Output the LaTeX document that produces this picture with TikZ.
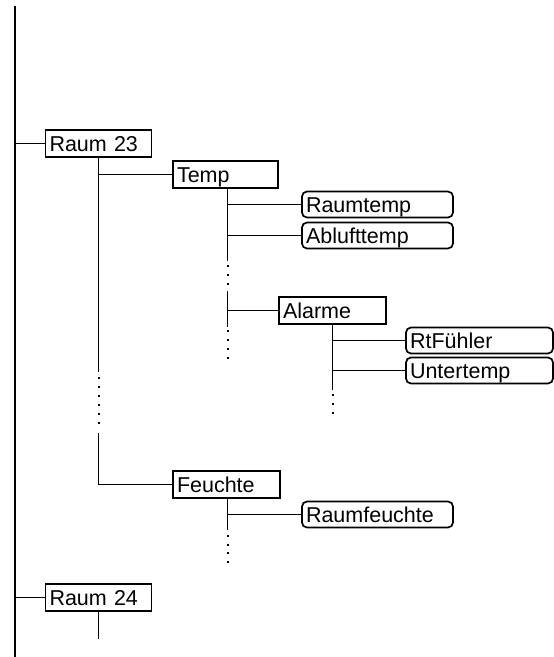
\documentclass[tikz,border=0pt]{standalone}
\usepackage{fontspec}
\setmainfont{Liberation Sans}
\begin{document}
\begin{tikzpicture}[x=1pt,y=-1pt,
  lbl/.style={inner xsep=4pt, inner ysep=0pt, text height=15pt, text depth=0pt,
    font=\fontsize{21.5}{25}\selectfont, align=left, line width=1.7pt},
  sqbox/.style={lbl, draw, minimum height=27pt, text width=#1},
  rbox/.style={lbl, draw, rounded corners=5pt, minimum height=26pt, text width=#1},
  conn/.style={line width=1pt},
  dotmark/.style={fill=black, minimum size=2pt, inner sep=0pt}]
\useasboundingbox (0,0) rectangle (554,657);
% nodes
\node[sqbox=98pt] (r23) at (98.5,143.5) {Raum 23};
\node[sqbox=97pt] (temp) at (225.5,174.5) {Temp};
\node[rbox=143pt] (rt) at (377.5,204.5) {Raumtemp};
\node[rbox=143pt] (at) at (377.5,235.5) {Ablufttemp};
\node[sqbox=99pt] (al) at (332.5,310.5) {Alarme};
\node[rbox=139pt] (rtf) at (479.5,340.5) {RtFühler};
\node[rbox=139pt] (ut) at (479.5,370.5) {Untertemp};
\node[sqbox=99pt] (fe) at (226.5,484.5) {Feuchte};
\node[rbox=143pt] (rf) at (377.5,514.5) {Raumfeuchte};
\node[sqbox=98pt] (r24) at (98.5,597.5) {Raum 24};
% main line
\coordinate (mtop) at (15,6);
\coordinate (mbot) at (15,657);
\draw[line width=2pt] (mtop) -- (mbot);
\draw[conn] (15,143.5) -- (r23.west);
\draw[conn] (15,597.5) -- (r24.west);
% Raum 23 stem
\coordinate (s1a) at (98.5,372);
\coordinate (s1b) at (98.5,433);
\coordinate (s1c) at (98.5,484.5);
\draw[conn] (r23.south) -- (s1a);
\draw[conn] (s1b) -- (s1c) -- (fe.west);
\draw[conn] (98.5,174.5) -- (temp.west);
\foreach \y in {378,387,396,405,414,423} \node[dotmark] at (98.5,\y) {};
% Temp stem
\coordinate (s2a) at (227.5,261);
\coordinate (s2b) at (227.5,291);
\coordinate (s2c) at (227.5,327);
\draw[conn] (227.5,187) -- (s2a);
\draw[conn] (s2b) -- (s2c);
\draw[conn] (227.5,204.5) -- (rt.west);
\draw[conn] (227.5,235.5) -- (at.west);
\draw[conn] (227.5,310.5) -- (al.west);
\foreach \y in {266,275,284,331,340,349,358} \node[dotmark] at (227.5,\y) {};
% Alarme stem
\coordinate (s3a) at (332.5,390);
\draw[conn] (al.south) -- (s3a);
\draw[conn] (332.5,340.5) -- (rtf.west);
\draw[conn] (332.5,370.5) -- (ut.west);
\foreach \y in {395,404,413} \node[dotmark] at (332.5,\y) {};
% Feuchte stem
\coordinate (s4a) at (227.5,530);
\draw[conn] (227.5,497) -- (s4a);
\draw[conn] (227.5,514.5) -- (rf.west);
\foreach \y in {536,545,553,562} \node[dotmark] at (227.5,\y) {};
% Raum 24 stem
\coordinate (s5a) at (98.5,639);
\draw[conn] (r24.south) -- (s5a);
\end{tikzpicture}
\end{document}
